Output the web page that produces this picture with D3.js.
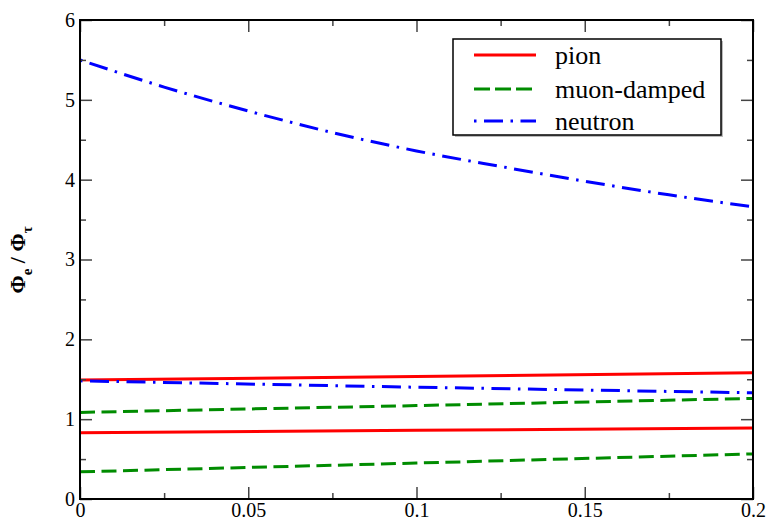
<!DOCTYPE html>
<html>
<head>
<meta charset="utf-8">
<script src="https://cdn.jsdelivr.net/npm/d3@7"></script>
</head>
<body style="margin:0">
<svg id="chart" width="768" height="522"></svg>
<script>
// ---- data ----
const xTickValues = [0, 0.05, 0.1, 0.15, 0.2];
const xTickLabels = ["0", "0.05", "0.1", "0.15", "0.2"];
const xMinorTicks = [0.025, 0.075, 0.125, 0.175];
const yTickValues = [0, 1, 2, 3, 4, 5, 6];
const yTickLabels = ["0", "1", "2", "3", "4", "5", "6"];
const yMinorTicks = [0.5, 1.5, 2.5, 3.5, 4.5, 5.5];

const xLinear = [0, 0.1, 0.2];
const pionHigh = [1.49, 1.535, 1.58];
const pionLow = [0.83, 0.86, 0.89];
const muonHigh = [1.085, 1.17, 1.26];
const muonLow = [0.34, 0.45, 0.565];
const neutronLow = [1.48, 1.40, 1.33];

const xCurve = [0, 0.025, 0.05, 0.075, 0.1, 0.125, 0.15, 0.175, 0.2];
const neutronHigh = [5.50, 5.16, 4.86, 4.59, 4.36, 4.165, 3.98, 3.81, 3.66];

const legendLabels = ["pion", "muon-damped", "neutron"];
const seriesColors = ["#ff0000", "#008c00", "#0000ff"];
const seriesDash = [null, "15,6.5", "2.5,7.5,19,7.5"];

// ---- layout ----
const svg = d3.select("#chart");
const L = 80, R = 753, T = 20, B = 499;
const x = d3.scaleLinear().domain([0, 0.2]).range([L, R]);
const y = d3.scaleLinear().domain([0, 6]).range([B, T]);
const serif = "Liberation Serif";

function serifText(sel, size) {
  sel.attr("font-family", serif)
     .style("font-family", serif, "important")
     .attr("font-size", size)
     .style("font-size", size + "px", "important");
  return sel;
}

// ---- series ----
const line = d3.line().x(d => x(d[0])).y(d => y(d[1]));
const curve = d3.line().x(d => x(d[0])).y(d => y(d[1])).curve(d3.curveMonotoneX);

const series = [
  { xs: xLinear, ys: pionHigh, k: 0, gen: line },
  { xs: xLinear, ys: pionLow, k: 0, gen: line },
  { xs: xLinear, ys: muonHigh, k: 1, gen: line },
  { xs: xLinear, ys: muonLow, k: 1, gen: line },
  { xs: xCurve, ys: neutronHigh, k: 2, gen: curve },
  { xs: xLinear, ys: neutronLow, k: 2, gen: line }
];

const plot = svg.append("g");
series.forEach(s => {
  const pts = s.xs.map((v, i) => [v, s.ys[i]]);
  plot.append("path")
    .attr("d", s.gen(pts))
    .attr("fill", "none")
    .attr("stroke", seriesColors[s.k])
    .attr("stroke-width", 3)
    .attr("stroke-dasharray", seriesDash[s.k]);
});

// ---- axes ----
function styleAxis(g) {
  g.select(".domain").remove();
  g.selectAll(".tick line").attr("stroke", "#444").attr("stroke-width", 1.5);
  g.selectAll(".tick text").attr("fill", "#000").call(serifText, 20);
}

svg.append("g").attr("transform", `translate(0,${B})`)
  .call(d3.axisBottom(x).tickValues(xTickValues).tickFormat((d, i) => xTickLabels[i]).tickSize(-12).tickPadding(4))
  .call(styleAxis);
svg.append("g").attr("transform", `translate(0,${B})`)
  .call(d3.axisBottom(x).tickValues(xMinorTicks).tickFormat("").tickSize(-6))
  .call(styleAxis);
svg.append("g").attr("transform", `translate(0,${T})`)
  .call(d3.axisTop(x).tickValues(xTickValues).tickFormat("").tickSize(-12))
  .call(styleAxis);
svg.append("g").attr("transform", `translate(0,${T})`)
  .call(d3.axisTop(x).tickValues(xMinorTicks).tickFormat("").tickSize(-6))
  .call(styleAxis);

svg.append("g").attr("transform", `translate(${L},0)`)
  .call(d3.axisLeft(y).tickValues(yTickValues).tickFormat((d, i) => yTickLabels[i]).tickSize(-12).tickPadding(5))
  .call(styleAxis);
svg.append("g").attr("transform", `translate(${L},0)`)
  .call(d3.axisLeft(y).tickValues(yMinorTicks).tickFormat("").tickSize(-6))
  .call(styleAxis);
svg.append("g").attr("transform", `translate(${R},0)`)
  .call(d3.axisRight(y).tickValues(yTickValues).tickFormat("").tickSize(-12))
  .call(styleAxis);
svg.append("g").attr("transform", `translate(${R},0)`)
  .call(d3.axisRight(y).tickValues(yMinorTicks).tickFormat("").tickSize(-6))
  .call(styleAxis);

// frame
svg.append("rect")
  .attr("x", L).attr("y", T).attr("width", R - L).attr("height", B - T)
  .attr("fill", "none").attr("stroke", "#000").attr("stroke-width", 2);

// ---- y label ----
const yl = svg.append("text")
  .attr("transform", "translate(25,260) rotate(-90)")
  .attr("text-anchor", "middle")
  .attr("font-weight", "bold")
  .attr("fill", "#000")
  .call(serifText, 22);
yl.append("tspan").text("Φ");
yl.append("tspan").call(serifText, 15).attr("dy", 7).text("e");
yl.append("tspan").attr("dy", -7).text(" / Φ");
yl.append("tspan").call(serifText, 15).attr("dy", 7).text("τ");

// ---- legend ----
const lg = svg.append("g");
lg.append("rect").attr("x", 455).attr("y", 41).attr("width", 268).attr("height", 96)
  .attr("fill", "#bbb");
lg.append("rect").attr("x", 453).attr("y", 39).attr("width", 268).attr("height", 96)
  .attr("fill", "#fff").attr("stroke", "#000").attr("stroke-width", 1.5);
const rowY = [55, 89, 121];
legendLabels.forEach((lab, i) => {
  lg.append("line")
    .attr("x1", 474).attr("x2", 536).attr("y1", rowY[i]).attr("y2", rowY[i])
    .attr("stroke", seriesColors[i]).attr("stroke-width", 3)
    .attr("stroke-dasharray", i === 1 ? "16,5" : seriesDash[i]);
  lg.append("text")
    .attr("x", 555).attr("y", rowY[i] + 9)
    .attr("fill", "#000")
    .call(serifText, 26)
    .text(lab);
});
</script>
</body>
</html>
